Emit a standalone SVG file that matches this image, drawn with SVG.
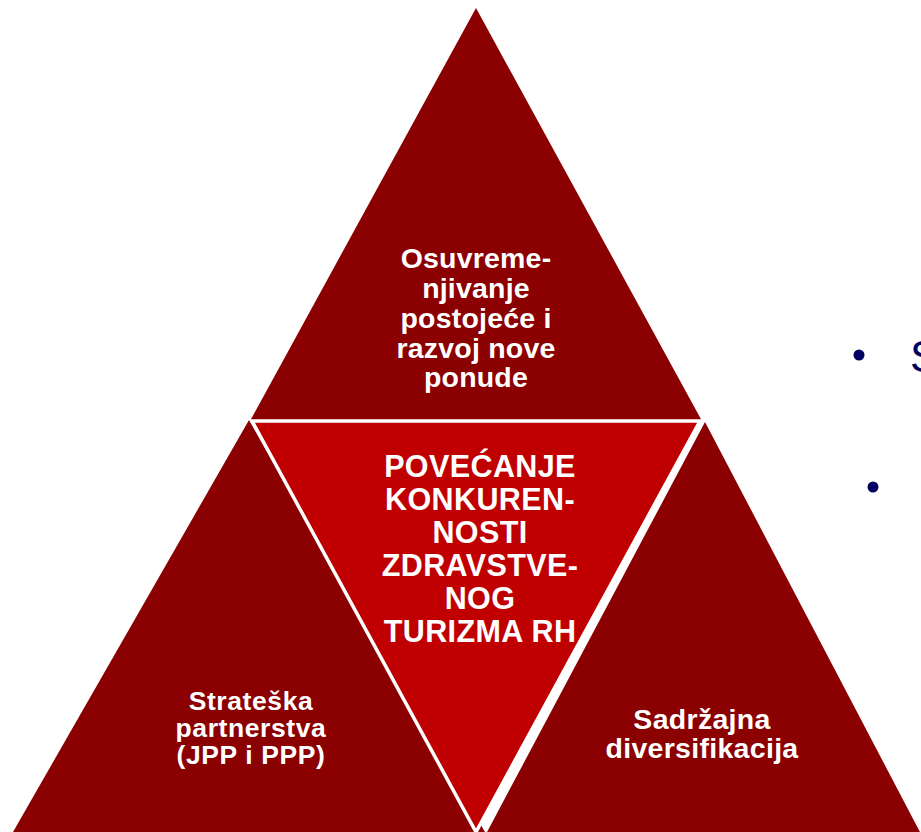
<svg xmlns="http://www.w3.org/2000/svg" width="921" height="832" viewBox="0 0 921 832">
<style>
.dark{fill:#8B0000}
.center{fill:#C00000;stroke:#FFFFFF;stroke-width:3.5;stroke-linejoin:miter}
.lbl{font-family:"Liberation Sans",Arial,sans-serif;font-weight:bold;fill:#FFFFFF;text-anchor:middle}
.bul{fill:#000060}
</style>
<rect width="921" height="832" fill="#FFFFFF"/>
<g id="top-triangle">
<polygon class="dark" points="476,8 250,421 702,421"/>
<text class="lbl" font-size="28.5" letter-spacing="0.2" x="476"><tspan x="476" y="268">Osuvreme-</tspan><tspan x="476" y="298">njivanje</tspan><tspan x="476" y="328">postojeće i</tspan><tspan x="476" y="358">razvoj nove</tspan><tspan x="476" y="387">ponude</tspan></text>
</g>
<g id="left-triangle">
<polygon class="dark" points="249,420 13,832 485,832"/>
<text class="lbl" font-size="26.5" letter-spacing="0.6" x="251"><tspan x="251" y="710">Strateška</tspan><tspan x="251" y="737">partnerstva</tspan><tspan x="251" y="764">(JPP i PPP)</tspan></text>
</g>
<g id="right-triangle">
<polygon class="dark" points="705,422 921,834 486,834"/>
<text class="lbl" font-size="28.5" letter-spacing="0.3" x="702"><tspan x="702" y="729">Sadržajna</tspan><tspan x="702" y="758">diversifikacija</tspan></text>
</g>
<g id="center-triangle">
<polygon class="center" points="252,421 700,421 476,832"/>
<text class="lbl" font-size="30.5" letter-spacing="0.4" x="480"><tspan x="480" y="477">POVEĆANJE</tspan><tspan x="480" y="510">KONKUREN-</tspan><tspan x="480" y="543">NOSTI</tspan><tspan x="480" y="576">ZDRAVSTVE-</tspan><tspan x="480" y="609">NOG</tspan><tspan x="480" y="642">TURIZMA RH</tspan></text>
</g>
<g id="bullets">
<circle class="bul" cx="859" cy="355" r="5.5"/>
<text x="910" y="372" font-family="Liberation Sans,Arial,sans-serif" font-size="44" fill="#000060">S</text>
<circle class="bul" cx="873" cy="487" r="5.5"/>
</g>
<g id="connectors"/>
</svg>
